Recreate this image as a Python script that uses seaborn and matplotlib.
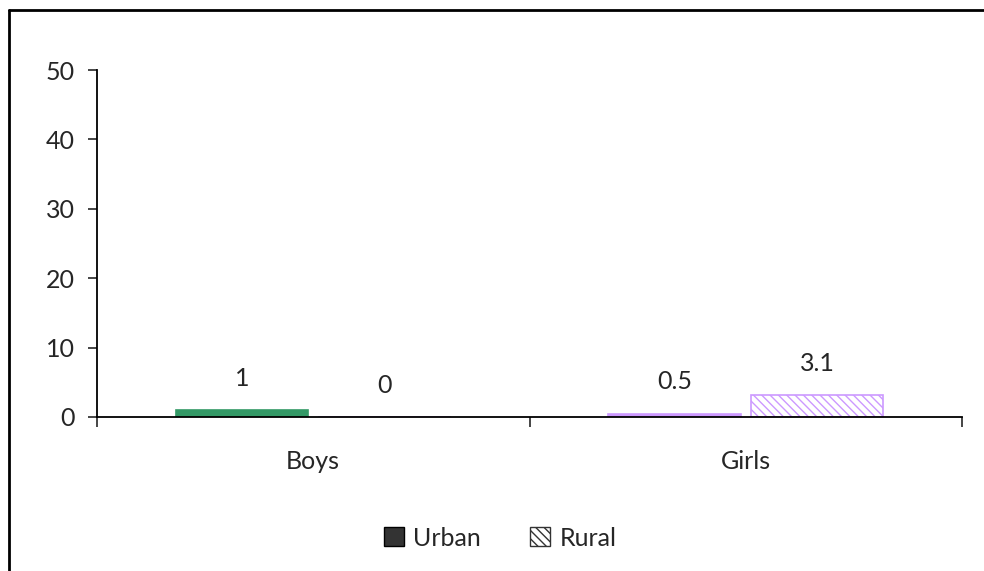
import matplotlib
matplotlib.use("Agg")
import matplotlib.pyplot as plt
import seaborn as sns
import pandas as pd
from matplotlib.patches import Patch
from matplotlib.lines import Line2D

# --- data ---
groups = ["Boys", "Girls"]
areas = ["Urban", "Rural"]
urban = [1, 0.5]
rural = [0, 3.1]
y_ticks = [0, 10, 20, 30, 40, 50]

bar_colors = {("Urban", "Boys"): "#339966", ("Urban", "Girls"): "#cc99ff",
              ("Rural", "Boys"): "#cc99ff", ("Rural", "Girls"): "#cc99ff"}

df = pd.DataFrame({
    "group": groups * 2,
    "area": ["Urban"] * len(groups) + ["Rural"] * len(groups),
    "value": urban + rural,
})

sns.set_style("white")
plt.rcParams["font.family"] = ["Lato", "DejaVu Sans"]
plt.rcParams["hatch.linewidth"] = 1.0

FS = 18

fig = plt.figure(figsize=(9.84, 5.71), dpi=100)
ax = fig.add_axes([97 / 984, 1 - 417 / 571, (962 - 97) / 984, (417 - 70) / 571])

sns.barplot(data=df, x="group", y="value", hue="area", order=groups,
            hue_order=areas, width=0.66, gap=0.07, ax=ax, legend=False,
            saturation=1)

# recolour each bar, hatch the rural ones and add value labels
for container, area in zip(ax.containers, areas):
    for bar, grp, val in zip(container, groups, df[df.area == area]["value"]):
        c = bar_colors[(area, grp)]
        if area == "Rural":
            bar.set_facecolor("white")
            bar.set_edgecolor(c)
            bar.set_hatch("\\\\\\\\")
        else:
            bar.set_facecolor(c)
            bar.set_edgecolor(c)
        bar.set_linewidth(1.2)
        cx = bar.get_x() + bar.get_width() / 2
        ax.text(cx, val + 3.5, f"{val:g}", ha="center", va="baseline", fontsize=FS)

ax.set_xlim(-0.5, 1.5)
ax.set_ylim(0, 50)
ax.set_yticks(y_ticks)
ax.set_xticks([-0.5, 0.5, 1.5])
ax.set_xticklabels([])
ax.set_xticks([0, 1], minor=True)
ax.set_xticklabels(groups, minor=True)
ax.tick_params(axis="x", which="minor", length=0, pad=24, labelsize=FS)
ax.tick_params(axis="x", which="major", length=7, width=1.2, direction="out",
               bottom=True)
ax.tick_params(axis="y", length=6.5, width=1.2, direction="out", left=True,
               labelsize=FS, pad=9.5)
ax.set_xlabel("")
ax.set_ylabel("")
for s in ["top", "right"]:
    ax.spines[s].set_visible(False)
for s in ["left", "bottom"]:
    ax.spines[s].set_color("black")
    ax.spines[s].set_linewidth(1.3)

# legend at the bottom
handles = [Patch(facecolor="#333333", edgecolor="black", label="Urban"),
           Patch(facecolor="white", edgecolor="#333333", hatch="\\\\\\\\", label="Rural")]
fig.legend(handles=handles, loc="center", bbox_to_anchor=(500 / 984, 1 - 538 / 571),
           ncol=2, frameon=False, fontsize=FS, handlelength=0.8, handleheight=0.8,
           handletextpad=0.36, columnspacing=2.0)

# chart frame (cut off at right and bottom in the reference)
fig.add_artist(Line2D([9 / 984, 9 / 984], [0, 1 - 10 / 571], color="black", lw=2,
                      transform=fig.transFigure))
fig.add_artist(Line2D([9 / 984, 1], [1 - 10 / 571, 1 - 10 / 571], color="black", lw=2,
                      transform=fig.transFigure))

fig.savefig("out.png", dpi=100)
